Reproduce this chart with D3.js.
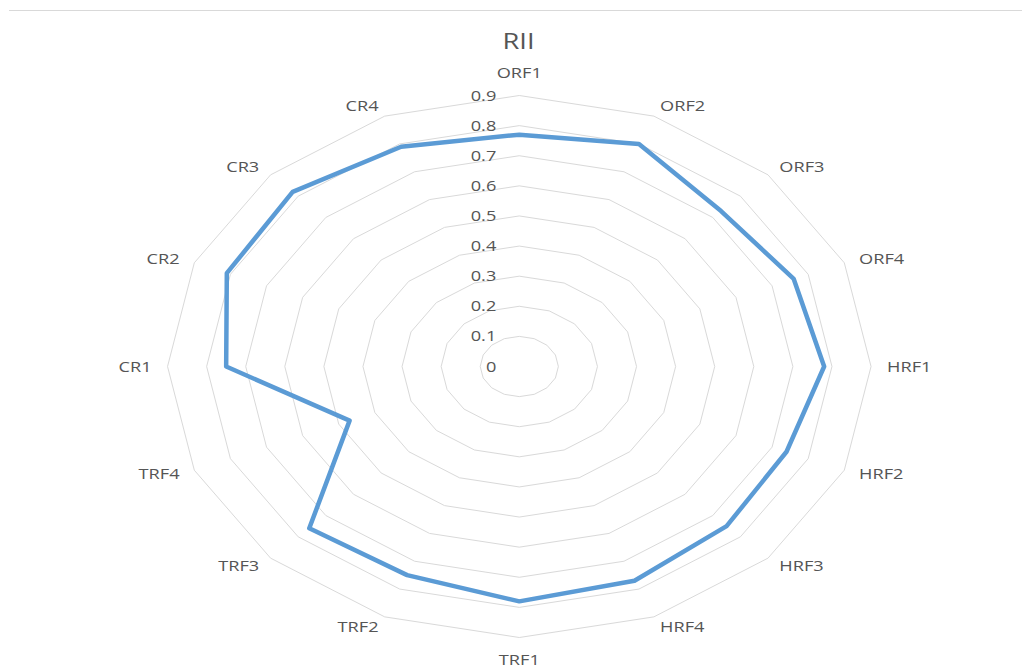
<!DOCTYPE html>
<html>
<head>
<meta charset="utf-8">
<script src="https://cdn.jsdelivr.net/npm/d3@7"></script>
<style>
  html, body { margin: 0; padding: 0; background: #fff; }
  svg { display: block; }
  text { font-family: "Open Sans", "Liberation Sans", sans-serif; fill: #555555; }
</style>
</head>
<body>
<svg id="chart" width="1022" height="670"></svg>
<script>
// Radar categories, clockwise from the top
const categories = ["ORF1", "ORF2", "ORF3", "ORF4", "HRF1", "HRF2", "HRF3", "HRF4",
                    "TRF1", "TRF2", "TRF3", "TRF4", "CR1", "CR2", "CR3", "CR4"];
// RII score per category
const rii = [0.77, 0.80, 0.73, 0.76, 0.78, 0.74, 0.75, 0.77,
             0.78, 0.75, 0.76, 0.47, 0.75, 0.81, 0.82, 0.79];
// Radial axis ticks
const ticks = [0, 0.1, 0.2, 0.3, 0.4, 0.5, 0.6, 0.7, 0.8, 0.9];
const tickLabels = ["0", "0.1", "0.2", "0.3", "0.4", "0.5", "0.6", "0.7", "0.8", "0.9"];
const title = "RII";

const svg = d3.select("#chart");
const cx = 519.3, cy = 366.5;
const stretchX = 1.298;          // plot area is wider than tall
const textScaleX = 1.3;

const r = d3.scaleLinear().domain([0, 0.9]).range([0, 271]);
const angle = d3.scalePoint().domain(categories).range([0, 2 * Math.PI * (categories.length - 1) / categories.length]);

const px = (cat, v) => cx + stretchX * r(v) * Math.sin(angle(cat));
const py = (cat, v) => cy - r(v) * Math.cos(angle(cat));

// top border line of the chart frame
svg.append("line")
  .attr("x1", 9).attr("x2", 1022).attr("y1", 10.5).attr("y2", 10.5)
  .attr("stroke", "#d9d9d9").attr("stroke-width", 1);

// title
svg.append("text")
  .attr("transform", `translate(518.5,48.5) scale(${textScaleX},1)`)
  .attr("text-anchor", "middle")
  .style("font-size", "21px")
  .text(title);

// concentric 16-gon gridlines
const ring = v => categories.map(c => [px(c, v), py(c, v)]);
svg.append("g").selectAll("polygon")
  .data(ticks.filter(t => t > 0))
  .join("polygon")
  .attr("points", d => ring(d).map(p => p.join(",")).join(" "))
  .attr("fill", "none")
  .attr("stroke", "#d9d9d9")
  .attr("stroke-width", 1);

// tick labels along the first axis
svg.append("g").selectAll("text")
  .data(ticks)
  .join("text")
  .attr("transform", (d, i) => `translate(${cx - 23},${cy - r(d)}) scale(${textScaleX},1)`)
  .attr("text-anchor", "end")
  .attr("dy", "0.36em")
  .style("font-size", "14px")
  .text((d, i) => tickLabels[i]);

// category labels just outside the outer ring
svg.append("g").selectAll("text")
  .data(categories)
  .join("text")
  .each(function (c) {
    const a = angle(c);
    const s = Math.sin(a), co = Math.cos(a);
    const ox = px(c, 0.9), oy = py(c, 0.9);
    let x, y, anchor;
    if (Math.abs(s) < 0.01) {
      x = ox; y = oy - co * 22.5; anchor = "middle";
    } else {
      x = ox + 16 * s; y = oy - co * 11; anchor = s > 0 ? "start" : "end";
    }
    d3.select(this)
      .attr("transform", `translate(${x},${y}) scale(${textScaleX},1)`)
      .attr("text-anchor", anchor)
      .attr("dy", "0.36em")
      .style("font-size", "14px")
      .text(c);
  });

// data series
const line = d3.line()
  .x((d, i) => px(categories[i], d))
  .y((d, i) => py(categories[i], d))
  .curve(d3.curveLinearClosed);

svg.append("path")
  .datum(rii)
  .attr("d", line)
  .attr("fill", "none")
  .attr("stroke", "#5b9bd5")
  .attr("stroke-width", 4.5)
  .attr("stroke-linejoin", "round");
</script>
</body>
</html>
